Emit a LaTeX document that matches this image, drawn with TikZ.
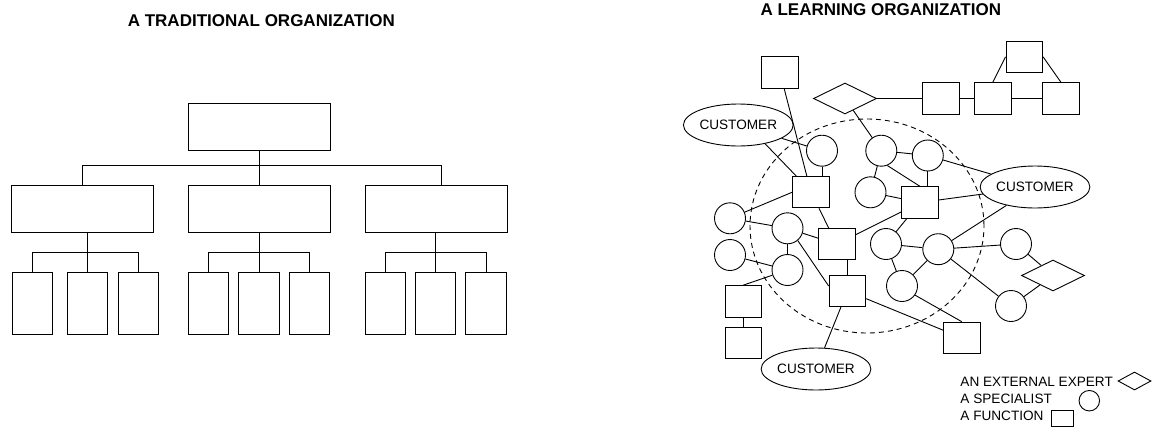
\documentclass[tikz,border=0pt]{standalone}
\usepackage{fontspec}
\setmainfont{Liberation Sans}
\usetikzlibrary{shapes.geometric}
\begin{document}
\begin{tikzpicture}[x=1pt,y=-1pt,line width=0.9pt,
  orgbox/.style={draw,rectangle,minimum width=141.7,minimum height=46.3,inner sep=0},
  orgleaf/.style={draw,rectangle,minimum width=40.3,minimum height=61.7,inner sep=0},
  fn/.style={draw,rectangle,minimum width=36.6,minimum height=31.4,inner sep=0},
  spec/.style={draw,circle,minimum size=31,inner sep=0},
  expert/.style={draw,diamond,minimum width=63,minimum height=31,inner sep=0},
  cust/.style={draw,ellipse,minimum width=100,minimum height=42,inner sep=0,
    font=\fontsize{13.6}{16}\selectfont},
  title/.style={font=\fontsize{17}{20}\selectfont\bfseries,anchor=base,inner sep=0},
  legend/.style={font=\fontsize{13.6}{16}\selectfont,anchor=base west,inner sep=0},
  zone/.style={draw,ellipse,dashed,dash pattern=on 5pt off 4pt,inner sep=0}]
\useasboundingbox (0,0) rectangle (1152,429);

% ---------- traditional hierarchy ----------
\node[title] (t1) at (261.3,26.7) {A TRADITIONAL ORGANIZATION};
\node[orgbox] (top) at (259.2,126.9) {};
\node[orgbox] (m1) at (82.7,208.8) {};
\node[orgbox] (m2) at (259.2,208.8) {};
\node[orgbox] (m3) at (436.2,208.8) {};
\foreach \n/\x in {l11/32.2,l12/87.7,l13/138.2,l21/208.7,l22/259,l23/309.7,l31/385.5,l32/435.5,l33/486}
  \node[orgleaf] (\n) at (\x,303.5) {};

\coordinate (tbar) at (259.2,165.3);
\draw (top.south) -- (m2.north);
\draw (m1.north) |- (tbar) -| ([xshift=4.8pt]m3.north);

\coordinate (b1) at (87.7,252.3);
\coordinate (b2) at (259,252.3);
\coordinate (b3) at (435.5,252.3);
\draw (l11.north) |- (b1) -| (l13.north);
\draw (m1.south -| l12.north) -- (l12.north);
\draw (l21.north) |- (b2) -| (l23.north);
\draw (m2.south -| l22.north) -- (l22.north);
\draw (l31.north) |- (b3) -| (l33.north);
\draw (m3.south -| l32.north) -- (l32.north);

% ---------- learning network ----------
\node[title] (t2) at (880.8,15) {A LEARNING ORGANIZATION};
\node[zone,minimum width=234,minimum height=214] (core) at (867,226) {};

% functions
\node[fn] (fa) at (780,72.5) {};
\node[fn] (fb) at (811,192.2) {};
\node[fn] (ff) at (920,202.5) {};
\node[fn] (fk) at (836.7,244.2) {};
\node[fn] (fl) at (847.4,291) {};
\node[fn] (fo) at (743.3,301.3) {};
\node[fn] (fp) at (743.3,343) {};
\node[fn] (fv) at (961.7,337.8) {};
\node[fn] (fw) at (941,98.5) {};
\node[fn] (fx) at (992.8,98.5) {};
\node[fn] (fy) at (1061,98.5) {};
\node[fn] (fz) at (1024.3,56.8) {};

% specialists
\node[spec] (sa) at (822,150.7) {};
\node[spec] (sc) at (881.3,150.7) {};
\node[spec] (sd) at (870.5,192.3) {};
\node[spec] (se) at (927.8,155.5) {};
\node[spec] (sg) at (730,218.3) {};
\node[spec] (sh) at (730,255) {};
\node[spec] (si) at (787.5,228.3) {};
\node[spec] (sj) at (787.5,270) {};
\node[spec] (sm) at (886,244) {};
\node[spec] (sn) at (902,286) {};
\node[spec] (sr) at (938.3,249.2) {};
\node[spec] (st) at (1016,244) {};
\node[spec] (su) at (1011,306) {};

% external experts
\node[expert] (ea) at (845,98.5) {};
\node[expert] (eb) at (1053,275.5) {};

% customers
\node[cust] (c1) at (738.3,125) {CUSTOMER};
\node[cust] (c2) at (1035,187) {CUSTOMER};
\node[cust] (c3) at (816,369) {CUSTOMER};

% links
\draw (fa) -- (fb);
\draw (c1.-35) -- ([xshift=4pt]fb.north west);
\draw (c1) -- (sa);
\draw (sa.south) -- (sa.south |- fb.north);
\draw (ea) -- (sc);
\draw (ea) -- (fw);
\draw (fw) -- (fx);
\draw (fx) -- (fy);
\draw (fx.north) -- (fz.west);
\draw (fz.east) -- (fy.north);
\draw (sc) -- (se);
\draw (sc) -- (sd);
\draw (sc.-68) -- (ff.north);
\draw (se.south) -- (se.south |- ff.north);
\draw (se) -- (c2);
\draw (ff) -- (c2);
\draw (sd) -- (ff);
\draw (fb.west) -- (sg);
\draw (fb) -- (fk);
\draw (si) -- (sg);
\draw (si) -- (fk);
\draw (si) -- (sj);
\draw (si.-50) -- (fl.165);
\draw (sh) -- (sj);
\draw (sj) -- (fo.north);
\draw (fo) -- (fp);
\draw (fl.north) -- (fl.north |- fk.south);
\draw (fk) -- (ff);
\draw (fl) -- (c3);
\draw (fl) -- (fv);
\draw (ff) -- (sm);
\draw (sm) -- (sr);
\draw (sm) -- (sn);
\draw (sr) -- (sn);
\draw (sr) -- (st);
\draw (sr) -- (su);
\draw (sr) -- (c2);
\draw (sn.-35) -- (fv.north);
\draw (st) -- (eb);
\draw (su) -- (eb);

% key
\node[legend] (kx) at (960,386) {AN EXTERNAL EXPERT};
\node[expert,minimum width=33,minimum height=18] (kd) at (1134.5,381) {};
\node[legend] (ks) at (960,403) {A SPECIALIST};
\node[spec,minimum size=20.5] (kc) at (1089.3,400.7) {};
\node[legend] (kf) at (960,420) {A FUNCTION};
\node[fn,minimum width=22,minimum height=16] (kr) at (1062.8,418.7) {};
\end{tikzpicture}
\end{document}
